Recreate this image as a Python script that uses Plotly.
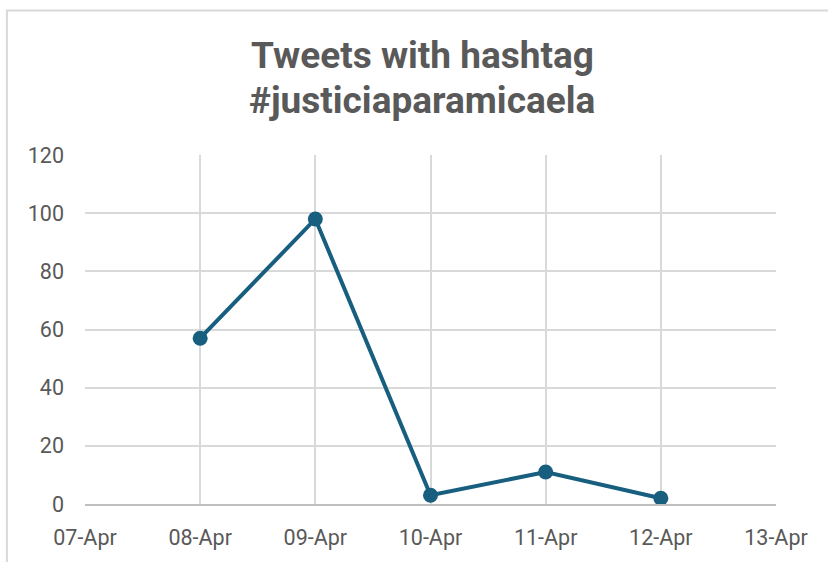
import plotly.graph_objects as go

dates = ["2024-04-08", "2024-04-09", "2024-04-10", "2024-04-11", "2024-04-12"]
tweets = [57, 98, 3, 11, 2]
x_range = ["2024-04-07", "2024-04-13"]
y_ticks = [0, 20, 40, 60, 80, 100, 120]
title_lines = ["Tweets with hashtag", "#justiciaparamicaela"]

LINE = "#175E7F"
GRID = "#D9D9D9"
TXT = "#595959"
FONT = "Roboto, sans-serif"

fig = go.Figure()
fig.add_trace(go.Scatter(
    x=dates, y=tweets, mode="lines+markers",
    line=dict(color=LINE, width=4),
    marker=dict(color=LINE, size=15),
    showlegend=False,
))

annotations = []
for i, t in enumerate(title_lines):
    annotations.append(dict(
        text="<b>" + t + "</b>", xref="paper", yref="paper",
        x=0.488, y=1.285 - i * 0.128, xanchor="center", yanchor="middle",
        showarrow=False, font=dict(family=FONT, size=37, color=TXT),
    ))

fig.update_layout(
    width=828, height=562,
    margin=dict(l=85, r=52, t=155, b=56),
    paper_bgcolor="white", plot_bgcolor="white",
    font=dict(family=FONT, color=TXT, size=21),
    annotations=annotations,
    shapes=[dict(type="rect", xref="paper", yref="paper",
                 x0=-0.113, x1=1.3, y0=-0.5, y1=1.414,
                 line=dict(color="#D9D9D9", width=2), layer="below")],
)
fig.update_xaxes(
    type="date", range=x_range, dtick=86400000, tick0=x_range[0],
    tickformat="%d-%b", showgrid=True, gridcolor=GRID, gridwidth=1.5,
    showline=True, linecolor="#BFBFBF", linewidth=1.5, mirror=False,
    ticks="", ticklabelstandoff=13, tickfont=dict(size=21.5, color=TXT),
    zeroline=False,
)
fig.update_yaxes(
    range=[0, 120], tickvals=y_ticks, showgrid=True, gridcolor=GRID, gridwidth=1.5,
    zeroline=False, showline=False, ticks="", ticklabelstandoff=20,
    tickfont=dict(size=21.5, color=TXT),
)

fig.write_html("out.html")
